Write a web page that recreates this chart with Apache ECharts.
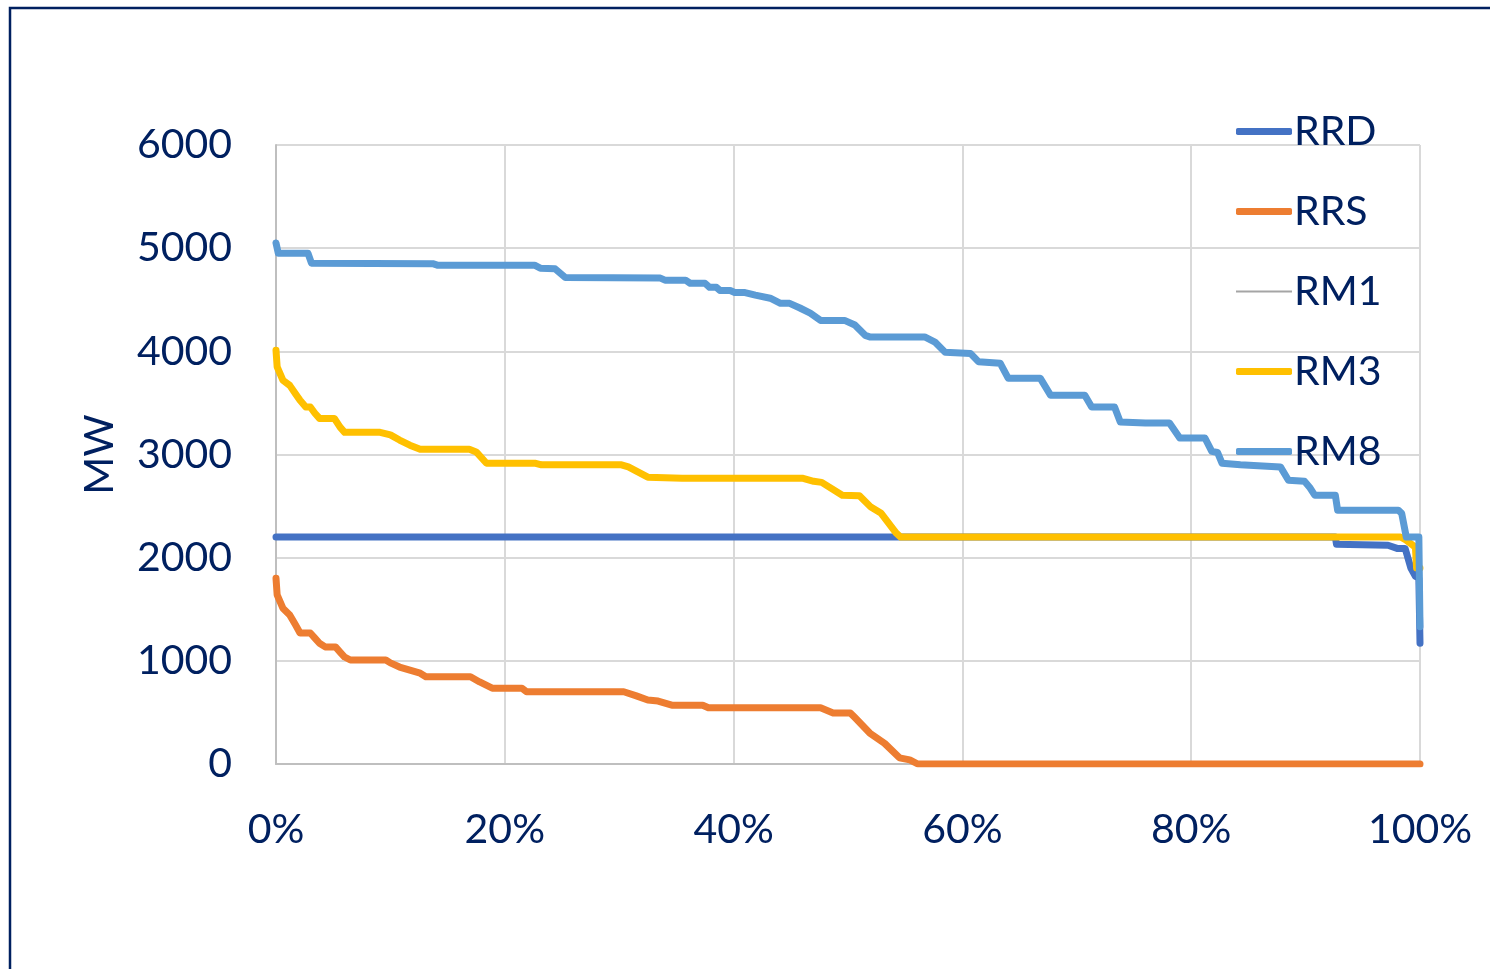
<!DOCTYPE html>
<html>
<head>
<meta charset="utf-8">
<title>Reserve requirement duration curves</title>
<script src="https://cdn.jsdelivr.net/npm/echarts@6/dist/echarts.min.js"></script>
<style>
  html, body { margin: 0; padding: 0; background: #ffffff; }
  #chart { width: 1490px; height: 969px; }
</style>
</head>
<body>
<div id="chart"></div>
<script>
// Duration curves: [percent of hours, MW]
const seriesNames = ['RRD', 'RRS', 'RM1', 'RM3', 'RM8'];
const seriesColors = ['#4472C4', '#ED7D31', '#A5A5A5', '#FFC000', '#5B9BD5'];

const xTicks = [0, 20, 40, 60, 80, 100];
const yTicks = [0, 1000, 2000, 3000, 4000, 5000, 6000];

const rrd = [
  [0, 2200], [92.6, 2200], [92.7, 2130], [97.2, 2120], [98.0, 2090], [98.7, 2090],
  [99.2, 1900], [99.6, 1820], [99.9, 1800], [100, 1170]
];

const rrs = [
  [0, 1800], [0.1, 1640], [0.6, 1510], [1.2, 1445], [1.7, 1350], [2.1, 1270], [3.0, 1270],
  [3.4, 1220], [3.8, 1170], [4.3, 1135], [5.2, 1135], [5.6, 1085], [6.0, 1037], [6.5, 1008],
  [9.6, 1008], [10.0, 980], [10.8, 940], [11.7, 910], [12.6, 880], [13.1, 845], [17.0, 845],
  [17.8, 795], [18.9, 735], [21.5, 735], [21.9, 700], [30.4, 700], [31.5, 660], [32.5, 620],
  [33.4, 610], [34.6, 570], [37.3, 570], [37.8, 545], [47.6, 545], [48.7, 495], [50.2, 495],
  [50.6, 450], [51.9, 300], [53.2, 200], [54.5, 60], [55.4, 40], [56.1, 0], [100, 0]
];

// RM1 has no plotted values; it appears in the legend only
const rm1 = [];

const rm3 = [
  [0, 4010], [0.1, 3850], [0.6, 3720], [1.2, 3670], [1.7, 3590], [2.1, 3525], [2.6, 3460],
  [3.0, 3460], [3.4, 3400], [3.8, 3350], [5.1, 3350], [5.6, 3265], [6.0, 3215], [9.1, 3215],
  [10.0, 3190], [10.8, 3140], [11.7, 3090], [12.6, 3050], [16.9, 3050], [17.5, 3025],
  [18.4, 2915], [22.7, 2915], [23.2, 2900], [30.2, 2900], [30.8, 2880], [32.5, 2780],
  [35.5, 2770], [46.0, 2770], [47.0, 2740], [47.7, 2730], [49.5, 2605], [51.0, 2600],
  [52.0, 2490], [52.9, 2430], [54.2, 2240], [54.6, 2200], [98.3, 2200], [98.8, 2170],
  [99.6, 2100], [99.7, 1900], [100, 1900]
];

const rm8 = [
  [0, 5050], [0.2, 4950], [2.8, 4950], [3.1, 4855], [13.7, 4850], [14.1, 4835], [22.6, 4835],
  [23.1, 4806], [24.4, 4800], [25.3, 4715], [33.6, 4710], [34.0, 4690], [35.8, 4690],
  [36.2, 4660], [37.5, 4660], [37.9, 4620], [38.5, 4620], [38.8, 4590], [39.7, 4590],
  [40.1, 4570], [41.0, 4570], [41.9, 4545], [43.2, 4515], [44.1, 4465], [44.9, 4465],
  [45.8, 4420], [46.7, 4370], [47.6, 4300], [49.7, 4300], [50.6, 4255], [51.5, 4155],
  [51.9, 4140], [56.7, 4140], [57.6, 4090], [58.5, 3990], [60.7, 3980], [61.4, 3900],
  [63.3, 3885], [64.0, 3740], [66.8, 3740], [67.7, 3575], [70.7, 3575], [71.3, 3460],
  [73.3, 3460], [73.8, 3315], [76.0, 3305], [78.1, 3305], [79.0, 3160], [81.2, 3160],
  [81.8, 3030], [82.3, 3020], [82.7, 2915], [84.3, 2900], [87.8, 2880], [88.5, 2750],
  [89.9, 2740], [90.4, 2675], [90.8, 2605], [92.6, 2605], [92.8, 2460], [98.1, 2460],
  [98.4, 2430], [98.8, 2200], [99.9, 2200], [100, 1330]
];

const seriesData = [rrd, rrs, rm1, rm3, rm8];
const lineWidths = [7, 7, 2, 7, 7];

const textColor = '#002060';
const fontFamily = 'Lato, "Open Sans", sans-serif';

// Legend swatches: thick rounded bars, a thin bar for RM1
const thickIcon = 'roundRect';
const thinIcon = 'path://M0,0L56,0L56,2.2L0,2.2Z';

const chart = echarts.init(document.getElementById('chart'), null, { renderer: 'canvas' });

chart.setOption({
  animation: false,
  backgroundColor: '#ffffff',
  textStyle: { fontFamily: fontFamily, color: textColor },
  graphic: [{
    type: 'rect',
    silent: true,
    shape: { x: 10, y: 8, width: 2000, height: 2000 },
    style: { fill: 'none', stroke: textColor, lineWidth: 2.5 }
  }],
  grid: { left: 276, right: 70, top: 145, bottom: 205, containLabel: false },
  legend: {
    orient: 'vertical',
    left: 1231,
    top: 106,
    itemWidth: 56,
    itemHeight: 7,
    itemGap: 39,
    symbolKeepAspect: true,
    textStyle: { fontSize: 41, color: textColor, fontFamily: fontFamily, lineHeight: 40, padding: [0, 0, 0, -3] },
    data: seriesNames.map((name, i) => ({
      name: name,
      icon: lineWidths[i] > 3 ? thickIcon : thinIcon,
      itemStyle: { color: seriesColors[i], borderWidth: 0 }
    }))
  },
  xAxis: {
    type: 'value',
    min: xTicks[0],
    max: xTicks[xTicks.length - 1],
    interval: xTicks[1] - xTicks[0],
    axisLine: { show: true, lineStyle: { color: '#BFBFBF', width: 2 } },
    axisTick: { show: false },
    splitLine: { show: true, lineStyle: { color: '#D9D9D9', width: 2 } },
    axisLabel: {
      margin: 45,
      fontSize: 41,
      color: textColor,
      fontFamily: fontFamily,
      formatter: v => v + '%'
    }
  },
  yAxis: {
    type: 'value',
    min: yTicks[0],
    max: yTicks[yTicks.length - 1],
    interval: yTicks[1] - yTicks[0],
    name: 'MW',
    nameLocation: 'middle',
    nameGap: 156,
    nameRotate: 90,
    nameTextStyle: { fontSize: 41, color: textColor, fontFamily: fontFamily },
    axisLine: { show: true, lineStyle: { color: '#BFBFBF', width: 2 } },
    axisTick: { show: false },
    splitLine: { show: true, lineStyle: { color: '#D9D9D9', width: 2 } },
    axisLabel: {
      margin: 44, fontSize: 41, color: textColor, fontFamily: fontFamily,
      formatter: v => String(v)
    }
  },
  series: seriesNames.map((name, i) => ({
    name: name,
    type: 'line',
    data: seriesData[i],
    showSymbol: false,
    symbol: 'none',
    color: seriesColors[i],
    lineStyle: { color: seriesColors[i], width: lineWidths[i], cap: 'round', join: 'round' },
    z: 2 + i
  }))
});
</script>
</body>
</html>
